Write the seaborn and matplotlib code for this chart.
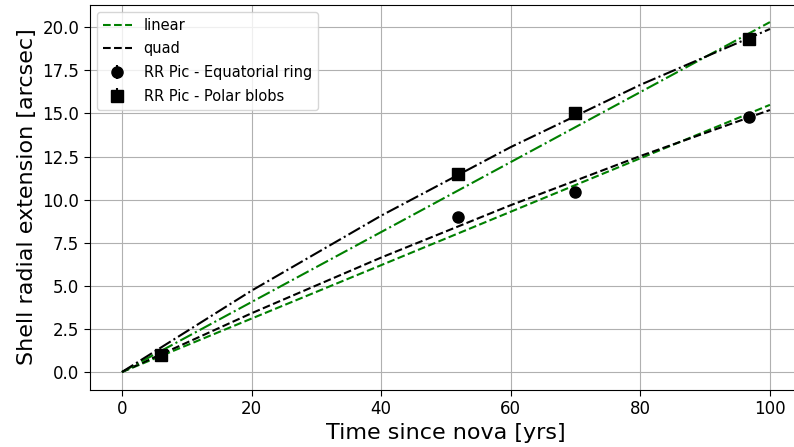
import numpy as np
import pandas as pd
import matplotlib
matplotlib.use("Agg")
import matplotlib.pyplot as plt
import seaborn as sns

# Observations
t_obs = [6.0, 51.9, 69.9, 96.8]
ring_ext = [1.0, 9.0, 10.45, 14.8]
blob_ext = [1.0, 11.5, 15.0, 19.3]
ring_err = [0.05, 0.05, 0.05, 0.05]
blob_err = [0.05, 0.05, 0.05, 0.05]

# Fitted model curves (read at these times)
t_fit = [0, 20, 40, 60, 80, 100]
lin_ring = [0.0, 3.10, 6.20, 9.30, 12.40, 15.50]
lin_blob = [0.0, 4.06, 8.12, 12.18, 16.24, 20.30]
quad_ring = [0.0, 3.41, 6.64, 9.68, 12.53, 15.20]
quad_blob = [0.0, 4.72, 9.07, 13.05, 16.66, 19.90]

sns.set_style("whitegrid")
plt.rcParams['font.family'] = ['DejaVu Sans']
plt.rcParams['text.color'] = 'black'
plt.rcParams['axes.labelcolor'] = 'black'
plt.rcParams['xtick.color'] = 'black'
plt.rcParams['ytick.color'] = 'black'

fig = plt.figure(figsize=(7.94, 4.47), dpi=100)
ax = fig.add_axes([0.1128, 0.1286, 0.8977, 0.8613])

df = pd.DataFrame({"t": t_fit, "lin_ring": lin_ring, "lin_blob": lin_blob,
                   "quad_ring": quad_ring, "quad_blob": quad_blob})

sns.lineplot(data=df, x="t", y="lin_ring", ax=ax, color="green", linestyle="--", lw=1.5, label="linear")
sns.lineplot(data=df, x="t", y="quad_ring", ax=ax, color="black", linestyle="--", lw=1.5, label="quad")
sns.lineplot(data=df, x="t", y="lin_blob", ax=ax, color="green", linestyle="-.", lw=1.5)
sns.lineplot(data=df, x="t", y="quad_blob", ax=ax, color="black", linestyle="-.", lw=1.5)

ax.errorbar(t_obs, ring_ext, yerr=ring_err, fmt="o", color="black", ms=8,
            label="RR Pic - Equatorial ring")
ax.errorbar(t_obs, blob_ext, yerr=blob_err, fmt="s", color="black", ms=8,
            label="RR Pic - Polar blobs")

ax.set_xlim(-5, 105)
ax.set_ylim(-1.015, 21.32)
ax.set_xticks([0, 20, 40, 60, 80, 100])
ax.set_yticks(np.arange(0, 20.1, 2.5))
ax.tick_params(labelsize=12, length=4, left=True, bottom=True, color="black", labelcolor="black")
for s in ax.spines.values():
    s.set_color("black")
    s.set_linewidth(0.8)
ax.spines['right'].set_visible(False)
ax.grid(True, color="#b0b0b0", lw=0.8)
ax.set_xlabel("Time since nova [yrs]", fontsize=16, color="black")
ax.set_ylabel("Shell radial extension [arcsec]", fontsize=16, color="black")
leg = ax.legend(loc="upper left", fontsize=10.5, frameon=True, labelspacing=0.6)
for txt in leg.get_texts():
    txt.set_color("black")

fig.savefig("out.png", dpi=100)
